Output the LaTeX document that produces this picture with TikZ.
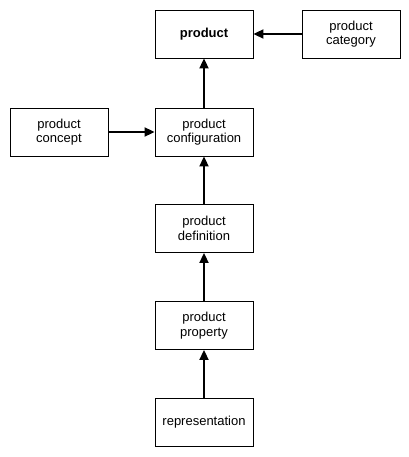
\documentclass[tikz,border=0pt]{standalone}
\usepackage{fontspec}
\setmainfont{Liberation Sans}
\usepackage{tikz}
\usetikzlibrary{positioning,arrows.meta}

\begin{document}
\begin{tikzpicture}[
    box/.style={draw, line width=0.9pt, minimum width=98pt, minimum height=48pt,
        align=center, inner sep=1pt, font=\fontsize{13}{14.5}\selectfont},
    link/.style={line width=2pt, -{Triangle[length=10pt,width=9pt]}}]
            \useasboundingbox (0,0) rectangle (408pt,-457pt);
            \node[box, font=\fontsize{13}{14.5}\selectfont\bfseries] (prod) at (204pt,-34pt) {product};
            \node[box, right of=prod, node distance=147pt] (cat)
            {product\\category};
            \node[box, below of=prod, node distance=98pt] (config)
            {product\\configuration};
            \node[box, left of=config, node distance=145pt] (concept)
            {product\\concept};
            \node[box, below of=config, node distance=96.5pt] (defn)
            {product\\definition};
            \node[box, below of=defn, node distance=97pt] (prop)
            {product\\property};
            \node[box, below of=prop, node distance=97pt] (repr)
            {representation};
            \draw[link] (cat) -- (prod);
            \draw[link] (concept) -- (config);
            \draw[link] (config) -- (prod);
            \draw[link] (defn) -- (config);
            \draw[link] (prop) -- (defn);
            \draw[link] (repr) -- (prop);
        \end{tikzpicture}
\end{document}
